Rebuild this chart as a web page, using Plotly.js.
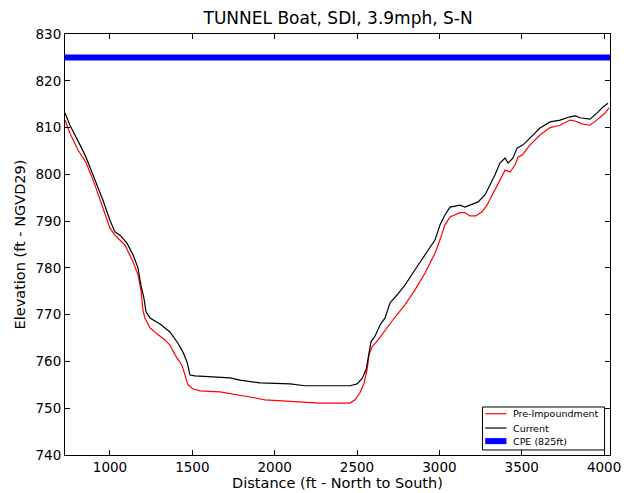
<!DOCTYPE html>
<html><head><meta charset="utf-8">
<script src="https://cdn.plot.ly/plotly-3.0.1.min.js"></script>
<style>body{margin:0;background:#fff}#c{width:632px;height:493px}</style>
</head><body><div id="c"></div>
<script>
const curX = [727,757,818,854,909,957,1000,1030,1061,1103,1140,1170,1188,1206,1219,1243,1304,1364,1413,1443,1468,1486,1516,1607,1729,1789,1911,2093,2184,2336,2457,2500,2530,2555,2573,2585,2609,2640,2670,2700,2743,2791,2852,2913,2974,3004,3034,3065,3125,3156,3186,3235,3277,3308,3338,3368,3399,3417,3447,3472,3508,3551,3611,3672,3733,3793,3824,3854,3915,3963,3993,4024];
const curY = [813.1,810.5,806.3,803.7,798.8,794.5,790.2,787.7,787,785.3,782.8,780,776.3,773.6,770.6,769.3,768,766.3,763.9,762,759.9,757.1,756.9,756.7,756.5,756,755.4,755.2,754.8,754.8,754.8,755.2,756.3,758.2,761.4,764.2,765.4,767.8,769.3,772.5,774.2,776.3,779.6,782.8,786,789.2,791.3,793,793.4,793,793.4,794.1,795.6,797.7,799.9,802.4,803.5,802.4,803.5,805.6,806.3,807.8,809.9,811.2,811.6,812.3,812.5,812.1,811.8,813.3,814.4,815.2];
const preX = [727,757,806,854,909,957,1000,1030,1091,1140,1170,1188,1200,1212,1243,1285,1334,1364,1395,1437,1455,1474,1504,1547,1668,1759,1850,1941,2093,2154,2215,2275,2397,2457,2488,2518,2543,2561,2573,2591,2628,2670,2731,2791,2852,2913,2974,3004,3034,3065,3125,3156,3186,3222,3259,3289,3338,3368,3399,3429,3459,3478,3502,3551,3611,3672,3733,3793,3824,3866,3915,3963,4006,4030];
const preY = [811.6,808.8,805.2,802.6,797.7,793,788.5,787,784.9,781.3,778.5,775.3,771,769.3,767.2,765.9,764.6,763.5,761.4,759.2,757.1,755,754.1,753.7,753.5,753,752.4,751.8,751.5,751.3,751.1,751.1,751.1,751.1,751.8,753.3,755.4,758.2,761.4,763.1,764.6,766.7,769.5,772.1,775.3,778.9,783.2,786,789.2,790.9,791.8,791.8,791.1,791.1,792,793.4,796.7,798.8,800.9,800.5,802,803.7,804.1,806.3,808.4,810,810.5,811.6,811.4,810.8,810.5,811.8,813.1,814.2];
const cpeX = [727,4036];
const cpeY = [825,825];
const xRange = [727,4036];
const yRange = [740,830];
const xTicks = [1000,1500,2000,2500,3000,3500,4000];
const yTicks = [740,750,760,770,780,790,800,810,820,830];
const names = ['Pre-Impoundment','Current','CPE (825ft)'];
const colors = ['#ff0000','#000000','#0000ff'];
const widths = [1.2,1.2,6];

const traces = [
  {x: preX, y: preY, mode:'lines', name:names[0], line:{color:colors[0], width:widths[0]}},
  {x: curX, y: curY, mode:'lines', name:names[1], line:{color:colors[1], width:widths[1]}},
  {x: cpeX, y: cpeY, mode:'lines', name:names[2], line:{color:colors[2], width:widths[2]}}
];

// compact matplotlib-style legend
const L = {x0:0.766, x1:0.990, y0:0.012, y1:0.114};
const rowY = [0.098, 0.064, 0.033];
const shapes = [{type:'rect', xref:'paper', yref:'paper', x0:L.x0, x1:L.x1, y0:L.y0, y1:L.y1,
  line:{color:'#000', width:1}, fillcolor:'#fff', layer:'above'}];
const annotations = [];
names.forEach((n,i)=>{
  shapes.push({type:'line', xref:'paper', yref:'paper', x0:0.771, x1:0.810, y0:rowY[i], y1:rowY[i],
    line:{color:colors[i], width:widths[i]}, layer:'above'});
  annotations.push({xref:'paper', yref:'paper', x:0.818, y:rowY[i], xanchor:'left', yanchor:'middle',
    text:n, showarrow:false, font:{family:'DejaVu Sans', size:9.5, color:'#000'}});
});

const ax = {showgrid:false, zeroline:false, showline:true, linecolor:'#000', linewidth:1,
  mirror:'allticks', ticks:'inside', ticklen:5, tickcolor:'#000',
  tickfont:{family:'DejaVu Sans', size:13.5, color:'#000'}};
const layout = {
  width:632, height:493,
  margin:{l:65, r:22, t:34, b:38},
  paper_bgcolor:'#fff', plot_bgcolor:'#fff',
  title:{text:'TUNNEL Boat, SDI, 3.9mph, S-N', font:{family:'DejaVu Sans', size:17, color:'#000'}, x:0.535, xanchor:'center', y:0.976, yanchor:'top'},
  xaxis: Object.assign({}, ax, {range:xRange, tickvals:xTicks,
    title:{text:'Distance (ft - North to South)', font:{family:'DejaVu Sans', size:14.5, color:'#000'}, standoff:1}}),
  yaxis: Object.assign({}, ax, {range:yRange, tickvals:yTicks,
    title:{text:'Elevation (ft - NGVD29)', font:{family:'DejaVu Sans', size:14.5, color:'#000'}, standoff:6}}),
  showlegend:false,
  shapes: shapes,
  annotations: annotations
};
Plotly.newPlot('c', traces, layout, {displayModeBar:false, staticPlot:true});
</script></body></html>
